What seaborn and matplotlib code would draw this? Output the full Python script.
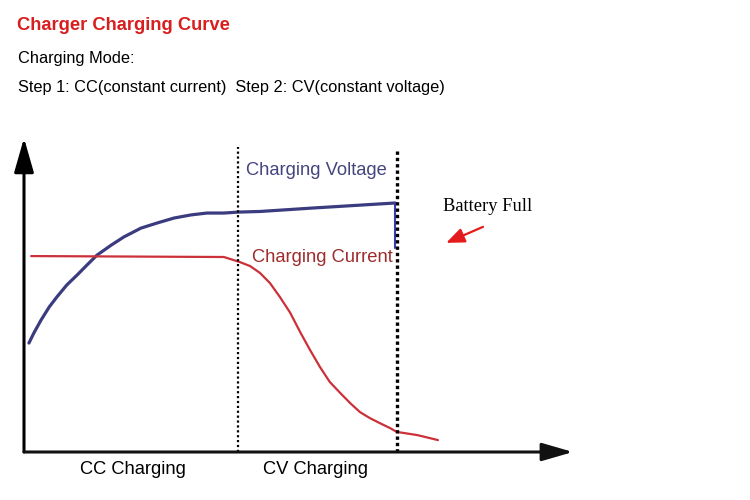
import seaborn as sns
import matplotlib.pyplot as plt
import pandas as pd

# curves (x = time %, y = level %)
volt_x = [0.9, 1.8, 3.1, 4.6, 6.0, 7.8, 9.7, 11.5, 13.3, 15.9, 18.2, 21.3, 24.2,
          27.3, 30.4, 33.3, 36.4, 39.0, 43.0, 52.6, 67.6]
volt_y = [34.7, 37.9, 42.0, 46.2, 49.4, 53.2, 56.4, 59.6, 62.7, 65.9, 68.5, 71.3, 72.9,
          74.5, 75.5, 76.1, 76.1, 76.4, 76.6, 77.7, 79.3]
volt_drop_y = [79.3, 65.0]

curr_x = [1.3, 36.4, 37.5, 39.3, 41.2, 43.0, 44.8, 46.6, 48.5, 50.3, 52.1, 53.9,
          55.7, 57.6, 59.4, 61.2, 63.0, 64.8, 66.7, 67.9, 71.6, 75.4]
curr_y = [62.4, 62.1, 61.5, 60.5, 59.2, 57.0, 53.8, 49.4, 44.3, 38.2, 32.5, 27.1,
          22.3, 18.8, 15.6, 12.7, 10.8, 9.2, 7.6, 6.4, 5.4, 3.8]

cc_end = 39.0
full_at = 67.9
phase_labels = ["CC Charging", "CV Charging"]

voltage = pd.DataFrame({"t": volt_x, "v": volt_y})
current = pd.DataFrame({"t": curr_x, "i": curr_y})

sns.set_theme(style="white")
plt.rcParams['font.family'] = ['Liberation Sans', 'DejaVu Sans']

W, H = 750, 500
fig = plt.figure(figsize=(7.5, 5), dpi=100)
fig.patch.set_facecolor("white")

def fx(px):
    return px / W

def fy(py):
    return 1 - py / H

ax = fig.add_axes([fx(24), fy(452), fx(573) - fx(24), fy(138) - fy(452)])
ax.set_xlim(0, 100)
ax.set_ylim(0, 100)
ax.axis("off")

navy = "#3b3b80"
red_line = "#cc3038"

sns.lineplot(data=voltage, x="t", y="v", ax=ax, color=navy, lw=2.3, sort=False,
             estimator=None, solid_joinstyle="round", solid_capstyle="round")
ax.plot([full_at - 0.3, full_at - 0.3], volt_drop_y, color="#3b3bb0", lw=1.5)
sns.lineplot(data=current, x="t", y="i", ax=ax, color=red_line, lw=1.6, sort=False,
             estimator=None, solid_joinstyle="round", solid_capstyle="round")

# phase dividers
ax.vlines(cc_end, 0, 97.1, colors="black", lw=1.6, linestyles=(0, (1, 1.2)))
ax.vlines(full_at, 0, 96.2, colors="black", lw=2.4, linestyles=(0, (1, 0.9)))

# axes arrows
ax.annotate("", xy=(0, 100), xytext=(0, 0), xycoords="data",
            arrowprops=dict(arrowstyle="-|>,head_length=2.1,head_width=0.6",
                            mutation_scale=10, lw=2.2, color="black",
                            shrinkA=0, shrinkB=0), annotation_clip=False)
ax.annotate("", xy=(100, 0), xytext=(0, 0), xycoords="data",
            arrowprops=dict(arrowstyle="-|>,head_length=1.9,head_width=0.55",
                            mutation_scale=10, lw=2.2, color="#111111",
                            shrinkA=0, shrinkB=0), annotation_clip=False)

# battery full arrow
ax.annotate("", xy=(76.9, 66.6), xytext=(83.6, 71.7),
            arrowprops=dict(arrowstyle="-|>,head_length=1.1,head_width=0.45",
                            mutation_scale=10, lw=1.6, color="#e31b1b",
                            shrinkA=0, shrinkB=0), annotation_clip=False)

# texts
fig.text(fx(17), fy(26), "Charger Charging Curve", color="#d81e1e", fontsize=13.2,
         fontweight="bold", va="center", ha="left")
fig.text(fx(18), fy(58), "Charging Mode:", color="black", fontsize=11.8, va="center")
fig.text(fx(18), fy(88), "Step 1: CC(constant current)  Step 2: CV(constant voltage)",
         color="black", fontsize=11.8, va="center")
fig.text(fx(246), fy(170), "Charging Voltage", color="#45457f", fontsize=13.2, va="center")
fig.text(fx(252), fy(257), "Charging Current", color="#9e2c2c", fontsize=13.2, va="center")
fig.text(fx(443), fy(207), "Battery Full", color="black", fontsize=13.3,
         family="Liberation Serif", va="center")
fig.text(fx(80), fy(470), phase_labels[0], color="black", fontsize=13.2, va="center")
fig.text(fx(263), fy(470), phase_labels[1], color="black", fontsize=13.2, va="center")

fig.savefig("out.png", dpi=100, facecolor="white")
